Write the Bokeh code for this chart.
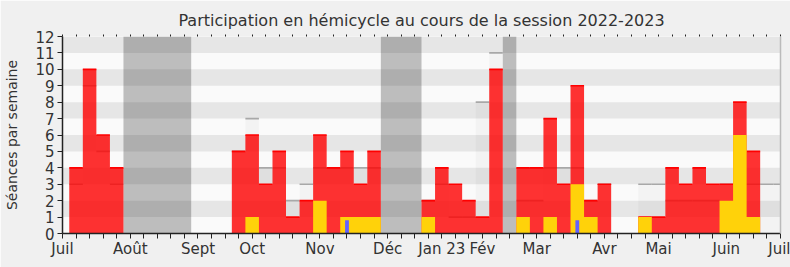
from bokeh.plotting import figure
from bokeh.models import Range1d, FixedTicker, LinearAxis, ColumnDataSource
from bokeh.embed import file_html
from bokeh.resources import INLINE

# ---- data (one value per week of the session) ----
semaines = list(range(1, 54))
presences = [4, 10, 6, 4, 0, 0, 0, 0, 0, 0, 0, 0,
             5, 6, 3, 5, 1, 2, 6, 4, 5, 3, 5,
             0, 0, 0,
             2, 4, 3, 2, 1, 10,
             0,
             4, 4, 7, 3, 9, 2, 3,
             0, 0,
             1, 1, 4, 3, 4, 3, 3, 8, 5,
             0, 0]
participations = [0, 0, 0, 0, 0, 0, 0, 0, 0, 0, 0, 0,
                  0, 1, 0, 0, 0, 0, 2, 0, 1, 1, 1,
                  0, 0, 0,
                  1, 0, 0, 0, 0, 0,
                  0,
                  1, 0, 1, 0, 3, 1, 0,
                  0, 0,
                  1, 0, 0, 0, 0, 0, 2, 6, 1,
                  0, 0]
questions = [0] * 53
questions[21 - 1] = 0.8
questions[38 - 1] = 0.8
mediane = [3, 9, 5, 3, 0, 0, 0, 0, 0, 0, 0, 0,
           5, 7, 4, 4, 2, 3, 4, 4, 4, 4, 4,
           0, 0, 0,
           2, 3, 1, 1, 8, 11,
           0,
           2, 2, 4, 4, 4, 2, 3,
           0, 0,
           3, 3, 2, 2, 2, 2, 3, 3, 3,
           3, 3]
vacances = [5, 6, 7, 8, 9, 24, 25, 26, 33]

mois_pos = [0, 5, 10, 14, 19, 24, 28, 31, 35, 40, 44, 49, 53]
mois_lab = ["Juil", "Août", "Sept", "Oct", "Nov", "Déc", "Jan 23", "Fév",
            "Mar", "Avr", "Mai", "Juin", "Juil"]
y_ticks = list(range(0, 13))

FONT = "DejaVu Sans"
TXT = "#333333"


def step_shapes(vals):
    """Build one step polygon per run of consecutive non-zero weeks."""
    runs, cur = [], []
    for s, v in zip(semaines, vals):
        if v > 0:
            cur.append((s, v))
        elif cur:
            runs.append(cur)
            cur = []
    if cur:
        runs.append(cur)
    xs, ys = [], []
    for run in runs:
        x, y = [run[0][0] - 0.5], [0]
        for s, v in run:
            x += [s - 0.5, s + 0.5]
            y += [v, v]
        x.append(run[-1][0] + 0.5)
        y.append(0)
        xs.append(x)
        ys.append(y)
    return xs, ys


def tops(vals):
    pts = [(s, v) for s, v in zip(semaines, vals) if v > 0]
    return ColumnDataSource(dict(x0=[s - 0.5 for s, _ in pts],
                                 x1=[s + 0.5 for s, _ in pts],
                                 y=[v for _, v in pts]))


p = figure(width=790, height=267, output_backend="svg", toolbar_location=None,
           x_range=Range1d(0, 53), y_range=Range1d(0, 12),
           min_border_left=62, min_border_right=10, min_border_top=36,
           min_border_bottom=34)
p.title.text = "Participation en hémicycle au cours de la session 2022-2023"
p.title.align = "center"
p.title.text_font = FONT
p.title.text_font_size = "16px"
p.title.text_font_style = "normal"
p.title.text_color = TXT
p.background_fill_color = "#fafafa"
p.border_fill_color = "#f0f0f0"
p.outline_line_color = None
p.grid.visible = False

# horizontal stripes
bandes = [y + 0.5 for y in y_ticks[:-1] if y % 2 == 1]
p.hbar(y=bandes, height=1, left=0, right=53, fill_color="#e6e6e6",
       line_color=None)

# vacation blocks (contiguous runs of weeks)
runs = []
for w in vacances:
    if runs and runs[-1][1] == w - 0.5:
        runs[-1][1] = w + 0.5
    else:
        runs.append([w - 0.5, w + 0.5])
p.quad(left=[r[0] for r in runs], right=[r[1] for r in runs], bottom=0, top=12,
       fill_color="black", fill_alpha=0.245, line_color=None)

# median band
mx, my = step_shapes(mediane)
p.patches(mx, my, fill_color="black", fill_alpha=0.028, line_color=None)
p.segment(x0="x0", x1="x1", y0="y", y1="y", source=tops(mediane),
          line_color="#a8a8a8", line_width=1.6)

# presences (red)
rx, ry = step_shapes(presences)
p.patches(rx, ry, fill_color="#ff0000", fill_alpha=0.8, line_color=None)
p.segment(x0="x0", x1="x1", y0="y", y1="y", source=tops(presences),
          line_color="#ff0000", line_width=1.6)

# participations (yellow)
yx, yy = step_shapes(participations)
p.patches(yx, yy, fill_color="#ffd20a", line_color=None)

# questions (blue)
qu = [(s, v) for s, v in zip(semaines, questions) if v > 0]
p.vbar(x=[a for a, _ in qu], top=[b for _, b in qu], width=0.28,
       fill_color="#6262ff", line_color=None)

# axes
p.yaxis.ticker = FixedTicker(ticks=y_ticks)
p.yaxis.axis_label = "Séances par semaine"
p.yaxis.axis_label_text_font = FONT
p.yaxis.axis_label_text_font_size = "14px"
p.yaxis.axis_label_text_font_style = "normal"
p.yaxis.axis_label_text_color = TXT
p.yaxis.axis_label_standoff = 12
p.yaxis.major_label_text_font = FONT
p.yaxis.major_label_text_font_size = "15px"
p.yaxis.major_label_text_color = TXT
p.yaxis.major_label_standoff = 3
p.yaxis.major_tick_out = 5
p.yaxis.major_tick_in = 0
p.yaxis.minor_tick_line_color = None
p.yaxis.axis_line_color = "#222222"
p.yaxis.axis_line_width = 1.5
p.yaxis.major_tick_line_color = "#222222"

overrides = {i: "" for i in range(54)}
for pos, lab in zip(mois_pos, mois_lab):
    overrides[pos] = lab
p.xaxis.ticker = FixedTicker(ticks=list(range(54)))
p.xaxis.major_label_overrides = overrides
p.xaxis.major_label_text_font = FONT
p.xaxis.major_label_text_font_size = "15px"
p.xaxis.major_label_text_color = TXT
p.xaxis.major_label_standoff = 1
p.xaxis.major_tick_out = 5
p.xaxis.major_tick_in = 0
p.xaxis.minor_tick_line_color = None
p.xaxis.axis_line_color = "#222222"
p.xaxis.axis_line_width = 1.5
p.xaxis.major_tick_line_color = "#222222"

top_axis = LinearAxis(ticker=FixedTicker(ticks=list(range(54))),
                      major_label_overrides={i: "" for i in range(54)},
                      major_label_text_font_size="1px",
                      major_tick_out=2, major_tick_in=0,
                      minor_tick_line_color=None, axis_line_color=None,
                      major_tick_line_color="#222222")
p.add_layout(top_axis, "above")

right_axis = LinearAxis(ticker=FixedTicker(ticks=[]),
                        major_label_text_font_size="1px",
                        major_tick_line_color=None, minor_tick_line_color=None,
                        axis_line_color="#bbbbbb", axis_line_width=1.5)
p.add_layout(right_axis, "right")

open("out.html", "w").write(file_html(p, INLINE))
